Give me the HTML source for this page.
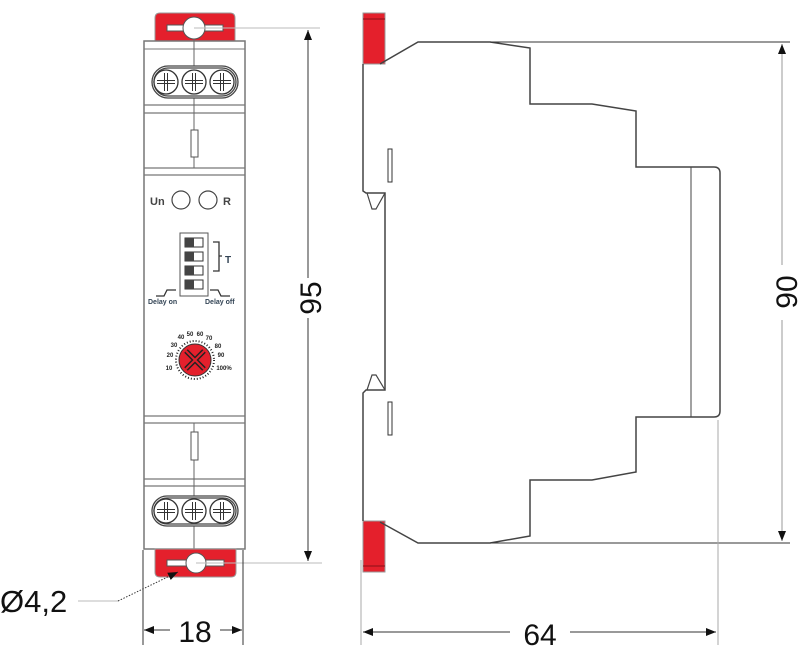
<!DOCTYPE html>
<html><head><meta charset="utf-8"><style>body{margin:0;background:#fff}svg{display:block}</style></head><body>
<svg width="800" height="649" viewBox="0 0 800 649" xmlns="http://www.w3.org/2000/svg" font-family="Liberation Sans, sans-serif">
<defs>
<marker id="a" markerWidth="10" markerHeight="8" refX="10" refY="4" orient="auto" markerUnits="userSpaceOnUse"><path d="M0,0 L10,4 L0,8 Z" fill="#111"/></marker>
</defs>
<!-- FRONT VIEW -->
<path d="M155,41 V18 Q155,13 160,13 H230 Q235,13 235,18 V41 Z" fill="#e4202c" stroke="#999" stroke-width="1"/>
<rect x="167" y="25" width="56" height="6" fill="#fff" stroke="#555" stroke-width="1"/>
<circle cx="194" cy="28" r="11" fill="#fff" stroke="#555"/>
<rect x="144" y="41" width="101" height="508" fill="#fff" stroke="#777" stroke-width="1.5"/>
<line x1="144" y1="49" x2="245" y2="49" stroke="#777"/>
<g stroke="#777" stroke-width="1.3"><line x1="144" y1="105" x2="245" y2="105"/><line x1="144" y1="113" x2="245" y2="113"/><line x1="144" y1="168" x2="245" y2="168"/><line x1="144" y1="175" x2="245" y2="175"/>
<line x1="144" y1="416" x2="245" y2="416"/><line x1="144" y1="423" x2="245" y2="423"/><line x1="144" y1="479" x2="245" y2="479"/><line x1="144" y1="486" x2="245" y2="486"/></g>
<line x1="194" y1="39" x2="194" y2="168" stroke="#666"/>
<line x1="194" y1="423" x2="194" y2="552" stroke="#666"/>
<rect x="191" y="130" width="7" height="27" fill="#fff" stroke="#555"/>
<rect x="191" y="432" width="7" height="28" fill="#fff" stroke="#555"/>
<g fill="#fff" stroke="#444" stroke-width="1.3">
<rect x="152" y="66" width="86" height="32" rx="16"/><rect x="154" y="68" width="82" height="28" rx="14"/>
<rect x="152" y="496" width="86" height="30" rx="15"/><rect x="154" y="498" width="82" height="26" rx="13"/>
</g>
<g fill="#fff" stroke="#333" stroke-width="1.3">
<circle cx="166" cy="82" r="12"/><circle cx="194" cy="82" r="12"/><circle cx="222" cy="82" r="12"/>
<circle cx="166" cy="511" r="12"/><circle cx="194" cy="511" r="12"/><circle cx="222" cy="511" r="12"/>
</g>
<g stroke="#333" stroke-width="1" fill="none">
<path d="M157,80.5h18M157,83.5h18M164.5,73v18M167.5,73v18"/>
<path d="M185,80.5h18M185,83.5h18M192.5,73v18M195.5,73v18"/>
<path d="M213,80.5h18M213,83.5h18M220.5,73v18M223.5,73v18"/>
<path d="M157,509.5h18M157,512.5h18M164.5,502v18M167.5,502v18"/>
<path d="M185,509.5h18M185,512.5h18M192.5,502v18M195.5,502v18"/>
<path d="M213,509.5h18M213,512.5h18M220.5,502v18M223.5,502v18"/>
</g>
<path d="M155,549 V572 Q155,577 160,577 H231 Q236,577 236,572 V549 Z" fill="#e4202c" stroke="#999"/>
<rect x="167" y="560" width="57" height="6" fill="#fff" stroke="#555"/>
<circle cx="196" cy="563" r="10" fill="#fff" stroke="#555"/>
<!-- panel -->
<text x="150" y="205" font-size="11" font-weight="bold" fill="#444">Un</text>
<circle cx="181" cy="200" r="9" fill="#fff" stroke="#444" stroke-width="1.2"/>
<circle cx="208" cy="200" r="9" fill="#fff" stroke="#444" stroke-width="1.2"/>
<text x="223" y="205" font-size="11" font-weight="bold" fill="#444">R</text>
<rect x="180" y="233" width="28" height="63" fill="#fff" stroke="#555"/>
<g stroke="#333" fill="#fff"><rect x="185" y="238" width="18" height="9"/><rect x="185" y="252" width="18" height="9"/><rect x="185" y="266" width="18" height="9"/><rect x="185" y="280" width="18" height="9"/></g>
<g fill="#444"><rect x="185" y="238" width="9" height="9"/><rect x="185" y="252" width="9" height="9"/><rect x="185" y="266" width="9" height="9"/><rect x="185" y="280" width="9" height="9"/></g>
<path d="M213,242h6v29h-6M219,256h3" stroke="#333" fill="none" stroke-width="1.3"/>
<text x="225" y="263" font-size="10" font-weight="bold" fill="#345">T</text>
<path d="M156,296h8l3,-6h9M210,290h8l3,6h9" stroke="#333" fill="none" stroke-width="1.3"/>
<text x="148" y="304" font-size="7" font-weight="bold" fill="#345">Delay on</text>
<text x="205" y="304" font-size="7" font-weight="bold" fill="#345">Delay off</text>
<circle cx="195" cy="360" r="16" fill="#e4202c" stroke="#333"/>
<circle cx="195" cy="360" r="19" fill="none" stroke="#222" stroke-width="2" stroke-dasharray="1 2"/>
<path d="M186,351l18,18M204,351l-18,18" stroke="#222" stroke-width="5"/>
<path d="M186,351l18,18M204,351l-18,18" stroke="#e4202c" stroke-width="2"/>
<g font-size="6" font-weight="bold" fill="#222" text-anchor="middle">
<text x="169" y="370">10</text><text x="170" y="357">20</text><text x="174" y="347">30</text><text x="181" y="339">40</text><text x="190" y="336">50</text><text x="200" y="336">60</text><text x="209" y="340">70</text><text x="218" y="348">80</text><text x="221" y="357">90</text><text x="224" y="370">100%</text>
</g>
<!-- dim 95 -->
<g stroke="#bbb" stroke-width="1"><line x1="194" y1="28" x2="320" y2="28"/><line x1="196" y1="563" x2="322" y2="563"/></g>
<line x1="308" y1="278" x2="308" y2="30" stroke="#333" marker-end="url(#a)"/>
<line x1="308" y1="318" x2="308" y2="561" stroke="#333" marker-end="url(#a)"/>
<text transform="translate(321,298) rotate(-90)" font-size="30" text-anchor="middle" fill="#111">95</text>
<!-- dim 18 -->
<g stroke="#333"><line x1="143" y1="550" x2="143" y2="645"/><line x1="243" y1="550" x2="243" y2="645"/></g>
<line x1="170" y1="630" x2="144" y2="630" stroke="#333" marker-end="url(#a)"/>
<line x1="220" y1="630" x2="242" y2="630" stroke="#333" marker-end="url(#a)"/>
<text x="195" y="642" font-size="30" text-anchor="middle" fill="#111">18</text>
<text x="0" y="612" font-size="31" fill="#111">Ø4,2</text>
<line x1="78" y1="601" x2="118" y2="601" stroke="#bbb"/>
<line x1="118" y1="601" x2="178" y2="572" stroke="#333" stroke-dasharray="1.5 1.5" marker-end="url(#a)"/>
<!-- SIDE VIEW -->
<rect x="363" y="13" width="22" height="51" fill="#e4202c" stroke="#999"/>
<line x1="363" y1="19" x2="385" y2="19" stroke="#8a1018"/>
<rect x="363" y="521" width="22" height="51" fill="#e4202c" stroke="#999"/>
<line x1="363" y1="566" x2="385" y2="566" stroke="#8a1018"/>
<path d="M380,64 L418,42 H490 L530,48 V104 H592 L636,111 V167 H714 Q720,167 720,173 V411 Q720,417 714,417 H636 V472 L592,480 H530 V536 L490,543 H418 L380,522" fill="none" stroke="#444" stroke-width="1.5"/>
<line x1="691" y1="167" x2="691" y2="417" stroke="#444"/>
<path d="M363,64 V191 L366,193 H385 V390 H366 L363,393 V521" fill="none" stroke="#444" stroke-width="1.5"/>
<path d="M367,193 L372,209 H376 L385,193" fill="none" stroke="#444" stroke-width="1.2"/>
<path d="M367,390 L372,375 H376 L385,390" fill="none" stroke="#444" stroke-width="1.2"/>
<rect x="388" y="149" width="4" height="33" fill="#fff" stroke="#333"/>
<rect x="388" y="402" width="4" height="33" fill="#fff" stroke="#333"/>
<!-- dim 90 -->
<g stroke="#333"><line x1="490" y1="42" x2="790" y2="42"/><line x1="490" y1="543" x2="790" y2="543"/></g>
<line x1="782" y1="265" x2="782" y2="44" stroke="#999" marker-end="url(#a)"/>
<line x1="782" y1="320" x2="782" y2="541" stroke="#999" marker-end="url(#a)"/>
<text transform="translate(797,292) rotate(-90)" font-size="30" text-anchor="middle" fill="#111">90</text>
<!-- dim 64 -->
<g stroke="#aaa"><line x1="361" y1="560" x2="361" y2="645"/><line x1="718" y1="420" x2="718" y2="645"/></g>
<line x1="510" y1="632" x2="363" y2="632" stroke="#333" marker-end="url(#a)"/>
<line x1="570" y1="632" x2="716" y2="632" stroke="#333" marker-end="url(#a)"/>
<text x="540" y="645" font-size="30" text-anchor="middle" fill="#111">64</text>
</svg>
</body></html>
